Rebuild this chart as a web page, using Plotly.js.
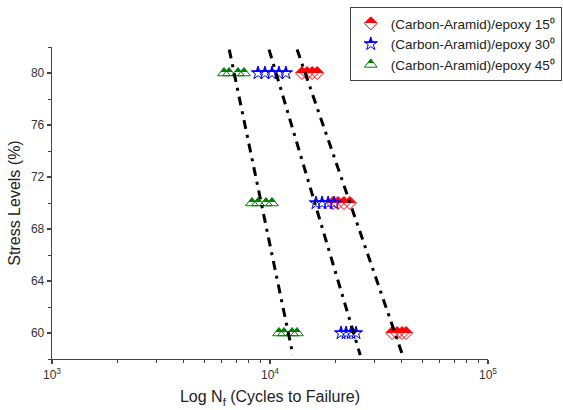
<!DOCTYPE html>
<html>
<head>
<meta charset="utf-8">
<script src="https://cdn.plot.ly/plotly-3.0.1.min.js"></script>
<style>html,body{margin:0;padding:0;background:#fff;}#chart{width:563px;height:410px;}</style>
</head>
<body>
<div id="chart"></div>
<script>
// ---- data ----
const seriesNames = ['(Carbon-Aramid)/epoxy 15⁰', '(Carbon-Aramid)/epoxy 30⁰', '(Carbon-Aramid)/epoxy 45⁰'];
const stress15 = [80, 80, 80, 80, 70, 70, 70, 70, 60, 60, 60, 60];
const cycles15 = [14020, 14790, 15600, 16450, 19450, 20510, 21840, 23260, 36310, 38280, 40360, 42100];
const stress30 = [80, 80, 80, 80, 80, 70, 70, 70, 70, 60, 60, 60, 60];
const cycles30 = [8810, 9480, 10210, 10990, 11830, 16250, 17330, 18470, 19690, 21170, 22330, 23550, 24800];
const stress45 = [80, 80, 80, 80, 70, 70, 70, 70, 60, 60, 60, 60];
const cycles45 = [6150, 6490, 7130, 7600, 8260, 8810, 9590, 10210, 10990, 11590, 12620, 13300];
const fitStressRange = [81.8, 58.3];
const xTickVals = [1000, 10000, 100000];
const xTickText = ['10<sup>3</sup>', '10<sup>4</sup>', '10<sup>5</sup>'];
const yTickVals = [60, 64, 68, 72, 76, 80];

const colors = ['#FF0000', '#0000FF', '#008000'];
const symbols = ['diamond', 'star', 'triangle-up'];
const sizes = [10, 10, 11];
const FONT = 'Liberation Sans, Arial, sans-serif';

function fitLine(S, N) {
  const L = N.map(v => Math.log10(v));
  const n = S.length;
  const ms = S.reduce((a, b) => a + b, 0) / n;
  const ml = L.reduce((a, b) => a + b, 0) / n;
  let sxy = 0, sxx = 0;
  for (let i = 0; i < n; i++) { sxy += (S[i] - ms) * (L[i] - ml); sxx += (S[i] - ms) ** 2; }
  const b = sxy / sxx, a = ml - b * ms;
  return { x: fitStressRange.map(s => Math.pow(10, a + b * s)), y: fitStressRange.slice() };
}

const sets = [[stress15, cycles15], [stress30, cycles30], [stress45, cycles45]];
const traces = [];
sets.forEach((d, i) => {
  traces.push({
    type: 'scatter', mode: 'markers', name: seriesNames[i],
    x: d[1], y: d[0],
    marker: {
      symbol: symbols[i], size: sizes[i], color: colors[i],
      gradient: { type: 'vertical', color: 'rgba(255,255,255,0)' },
      line: { color: colors[i], width: 1 }
    }
  });
});
sets.forEach((d, i) => {
  const f = fitLine(d[0], d[1]);
  traces.push({
    type: 'scatter', mode: 'lines', x: f.x, y: f.y, showlegend: false, hoverinfo: 'skip',
    line: { color: '#000', width: 3, dash: '9px,6px,3px,6px' }
  });
});

const axisCommon = {
  showgrid: false, zeroline: false, showline: true, linecolor: '#444', linewidth: 1.3,
  ticks: 'outside', ticklen: 4, tickwidth: 1.2, tickcolor: '#444',
  tickfont: { family: FONT, size: 12, color: '#333' },
  mirror: false
};
const xMinor = [];
for (let e = 3; e < 5; e++) for (let k = 2; k <= 9; k++) xMinor.push(k * Math.pow(10, e));

const layout = {
  width: 563, height: 410,
  margin: { l: 52, r: 75, t: 47, b: 51, autoexpand: false },
  paper_bgcolor: '#fff', plot_bgcolor: '#fff',
  font: { family: FONT, color: '#222' },
  showlegend: true,
  legend: {
    x: 0.683, y: 1.128, xanchor: 'left', yanchor: 'top',
    bordercolor: '#444', borderwidth: 1, bgcolor: '#fff',
    font: { family: FONT, size: 13.5, color: '#222' },
    tracegroupgap: 0
  },
  xaxis: Object.assign({}, axisCommon, {
    type: 'log', range: [3, 5], tickmode: 'array', tickvals: xTickVals, ticktext: xTickText,
    minor: { tickmode: 'array', tickvals: xMinor, ticks: 'outside', ticklen: 3, tickcolor: '#444', tickwidth: 1 },
    title: { text: 'Log N<sub>f</sub> (Cycles to Failure)', font: { size: 16, family: FONT, color: '#222' }, standoff: 10 }
  }),
  yaxis: Object.assign({}, axisCommon, {
    range: [58, 82], tickmode: 'array', tickvals: yTickVals,
    minor: { dtick: 2, tick0: 58, ticks: 'outside', ticklen: 3, tickcolor: '#444', tickwidth: 1 },
    title: { text: 'Stress Levels (%)', font: { size: 16, family: FONT, color: '#222' }, standoff: 6 }
  })
};

Plotly.newPlot('chart', traces, layout, { staticPlot: true, displayModeBar: false }).then(function () {
  // make the vertical gradient a sharp half fill (top filled, bottom open)
  document.querySelectorAll('#chart linearGradient stop').forEach(function (s) {
    s.setAttribute('offset', '50%');
  });
});
</script>
</body>
</html>
